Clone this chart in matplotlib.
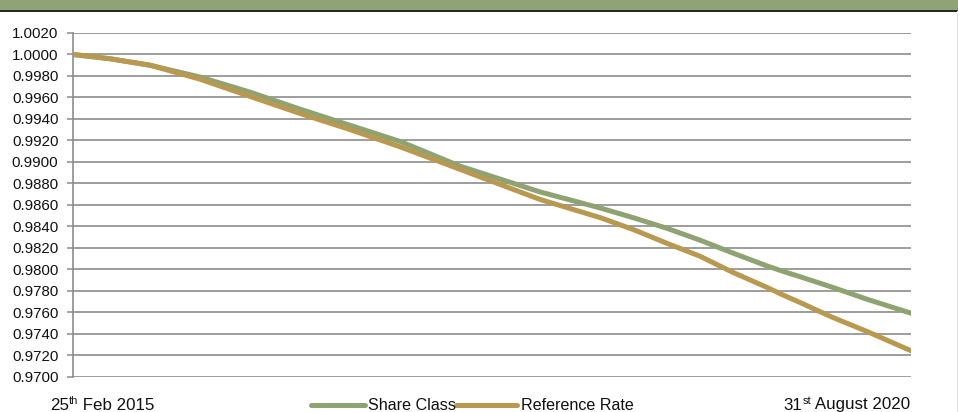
import matplotlib
matplotlib.use("Agg")
import matplotlib.pyplot as plt
from matplotlib.lines import Line2D
from matplotlib.patches import Rectangle
import pandas as pd

plt.rcParams['font.family'] = ['Liberation Sans', 'DejaVu Sans']

# ---- data ----
dates = ["2015-02-25", "2015-05-25", "2015-08-29", "2015-12-27", "2016-04-25",
         "2016-08-24", "2016-12-22", "2017-04-21", "2017-09-12", "2018-03-23",
         "2018-08-15", "2018-11-02", "2019-01-23", "2019-04-12", "2019-06-30",
         "2019-09-20", "2019-10-28", "2019-12-08", "2020-02-25", "2020-05-17",
         "2020-08-31"]
share_class = [1.0000, 0.9996, 0.9990, 0.9979, 0.9965,
               0.9949, 0.9934, 0.9919, 0.9896, 0.9872,
               0.9857, 0.9848, 0.9838, 0.9827, 0.9815,
               0.9803, 0.9798, 0.9793, 0.9783, 0.9772,
               0.9759]
reference_rate = [1.0000, 0.9996, 0.9990, 0.9977, 0.9961,
                  0.9945, 0.9930, 0.9914, 0.9893, 0.9865,
                  0.9848, 0.9837, 0.9824, 0.9812, 0.9797,
                  0.9783, 0.9776, 0.9769, 0.9755, 0.9742,
                  0.9724]
y_ticks = [0.9700 + 0.0020 * i for i in range(17)]
series_names = ["Share Class", "Reference Rate"]
start_label = ("25", "th", " Feb 2015")
end_label = ("31", "st", " August 2020")

GREEN = "#8FA372"
GOLD = "#B9994F"
GRID = "#8C8C8C"

x = pd.to_datetime(dates)

fig = plt.figure(figsize=(9.58, 4.12), dpi=100)
W, H = 958, 412

# header band
fig.patches.append(Rectangle((0, 1 - 9.5 / H), 1, 9.5 / H, transform=fig.transFigure,
                             facecolor="#8FA376", edgecolor="none", zorder=0))
fig.lines.append(Line2D([0, 1], [1 - 10.5 / H, 1 - 10.5 / H], transform=fig.transFigure,
                        color="#111111", lw=1.3))
fig.lines.append(Line2D([956.5 / W, 956.5 / W], [0, 1 - 11 / H], transform=fig.transFigure,
                        color="#E6E6E6", lw=0.8))

ax = fig.add_axes([73 / W, 1 - 376.5 / H, (911 - 73) / W, (376.5 - 33) / H])
ax.plot(x, share_class, color=GREEN, lw=3.6, solid_capstyle="round",
        solid_joinstyle="round", zorder=3)
ax.plot(x, reference_rate, color=GOLD, lw=3.6, solid_capstyle="round",
        solid_joinstyle="round", zorder=4)

ax.set_ylim(0.9700, 0.9700 + 0.0020 * 16)
ax.set_xlim(x[0], x[-1])
ax.set_yticks(y_ticks)
ax.set_yticklabels([f"{v:.4f}" for v in y_ticks], fontsize=10.8, color="#111111")
ax.tick_params(axis="y", length=4, width=1.1, color=GRID, pad=6.5)
ax.tick_params(axis="x", length=0, labelbottom=False)
ax.grid(axis="y", color=GRID, lw=1.2)
ax.set_axisbelow(True)
for s in ["top", "right", "bottom"]:
    ax.spines[s].set_visible(False)
ax.spines["left"].set_color(GRID)
ax.spines["left"].set_linewidth(1.2)

fig.canvas.draw()
renderer = fig.canvas.get_renderer()


def sup_text(x_px, baseline_px, parts, size=12.2, align="left"):
    main, sup, rest = parts
    items = [(main, size, 0), (sup, size * 0.66, 5.0), (rest, size, 0)]
    widths = []
    for s, fs, _ in items:
        t = fig.text(0, 0, s, fontsize=fs)
        bb = t.get_window_extent(renderer)
        widths.append(bb.width)
        t.remove()
    total = sum(widths)
    cur = x_px if align == "left" else x_px - total
    for (s, fs, dy), w in zip(items, widths):
        fig.text(cur / W, 1 - (baseline_px - dy) / H, s, fontsize=fs, color="#111111",
                 va="baseline", ha="left")
        cur += w


sup_text(50, 409.5, start_label)
sup_text(910, 409.5, end_label, align="right")

# legend
for (x0, x1, col, lab, tx) in [(311, 365, GREEN, series_names[0], 368),
                                (456, 517, GOLD, series_names[1], 521)]:
    fig.lines.append(Line2D([x0 / W, x1 / W], [1 - 405 / H, 1 - 405 / H], transform=fig.transFigure,
                            color=col, lw=3.6, solid_capstyle="round"))
    fig.text(tx / W, 1 - 410.5 / H, lab, fontsize=11.6, color="#111111", va="baseline", ha="left")

fig.savefig("out.png", dpi=100)
